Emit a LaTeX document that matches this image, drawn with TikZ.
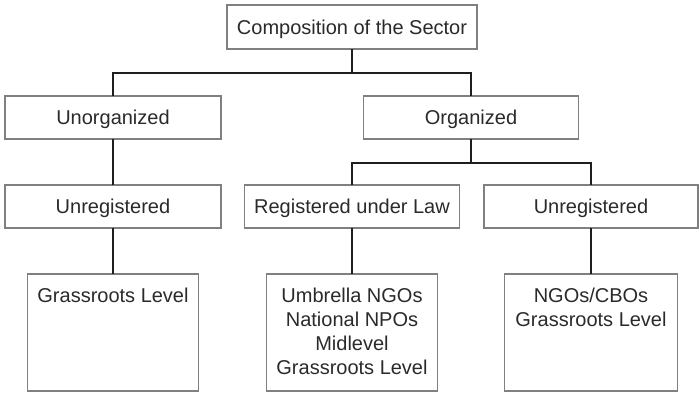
\documentclass[tikz,border=0pt]{standalone}
\usepackage{fontspec}
\setmainfont{Liberation Sans}
\definecolor{boxline}{HTML}{808080}
\definecolor{conline}{HTML}{1E1E1E}
\definecolor{txt}{HTML}{2A2A2A}
\begin{document}
\begin{tikzpicture}[x=1pt,y=-1pt,
  box/.style={draw=boxline, line width=1.4pt, fill=white, inner sep=0pt, outer sep=0pt,
    minimum width=216pt, minimum height=43pt, text=txt,
    font=\fontsize{20}{24}\selectfont, text height=14.3pt, text depth=0pt},
  tallbox/.style={draw=boxline, line width=1.4pt, inner sep=0pt, outer sep=0pt,
    minimum width=171pt, minimum height=117pt},
  boxtext/.style={anchor=north, inner sep=0pt, outer sep=0pt, align=center, text=txt,
    font=\fontsize{20}{24}\selectfont, yshift=-13.5pt},
  con/.style={draw=conline, line width=2pt}]
\useasboundingbox (0,0) rectangle (699,392);

\node[box, minimum width=250pt, minimum height=44pt] (top) at (352,27) {Composition of the Sector};
\node[box] (unorg) at (113,117.5) {Unorganized};
\node[box, minimum width=215pt] (org) at (471,117.5) {Organized};
\node[box] (unreg1) at (113,206.5) {Unregistered};
\node[box, minimum width=215pt] (reg) at (352,206.5) {Registered under Law};
\node[box, minimum width=214pt] (unreg2) at (591,206.5) {Unregistered};

\node[tallbox] (grass) at (113,332.5) {};
\node[tallbox] (umb) at (352,332.5) {};
\node[tallbox, minimum width=173pt] (ngo) at (591,332.5) {};

\node[boxtext] (grasst) at (grass.north) {Grassroots Level};
\node[boxtext] (umbt) at (umb.north) {Umbrella NGOs\\National NPOs\\Midlevel\\Grassroots Level};
\node[boxtext] (ngot) at (ngo.north) {NGOs/CBOs\\Grassroots Level};

\coordinate (j1) at (352,73);
\coordinate (j2) at (471,163);

\draw[con] (top.south) -- (j1);
\draw[con] (unorg.north) |- (j1) -| (org.north);
\draw[con] (unorg.south) -- (unreg1.north);
\draw[con] (org.south) -- (j2);
\draw[con] (reg.north) |- (j2) -| (unreg2.north);
\draw[con] (unreg1.south) -- (grass.north);
\draw[con] (reg.south) -- (umb.north);
\draw[con] (unreg2.south) -- (ngo.north);
\end{tikzpicture}
\end{document}
